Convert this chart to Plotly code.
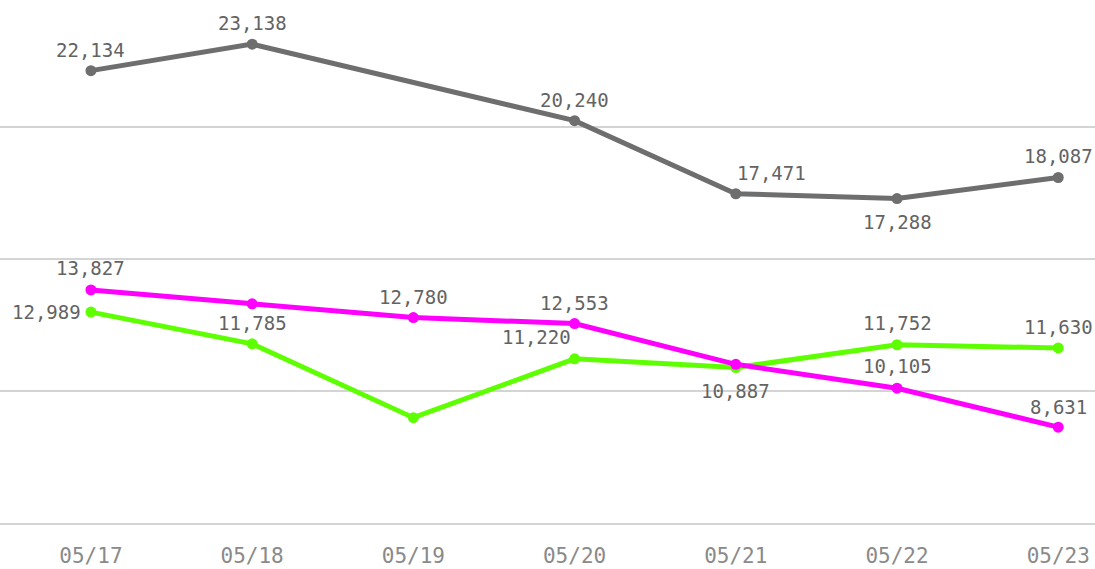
import plotly.graph_objects as go

# Daily values
dates = ["05/17", "05/18", "05/19", "05/20", "05/21", "05/22", "05/23"]
gray_vals = [22134, 23138, None, 20240, 17471, 17288, 18087]
magenta_vals = [13827, 13300, 12780, 12553, 11010, 10105, 8631]
green_vals = [12989, 11785, 8990, 11220, 10887, 11752, 11630]

# Which points carry a value label
gray_labeled = [True, True, False, True, True, True, True]
magenta_labeled = [True, False, True, True, False, True, True]
green_labeled = [True, True, False, True, True, True, True]

# Label placement (pixel offsets from the marker)
gray_offsets = [(0, 21), (0, 21), (0, 0), (0, 21), (36, 21), (0, -23), (0, 21)]
magenta_offsets = [(0, 22), (0, 0), (0, 21), (0, 21), (0, 0), (0, 22), (0, 20)]
green_offsets = [(-44, 0), (0, 21), (0, 0), (-38, 22), (0, -23), (0, 22), (0, 21)]

GRAY = "#6e6e6e"
MAGENTA = "#ff00ff"
GREEN = "#5eff00"
LABEL_FONT = dict(family="DejaVu Sans Mono", size=19, color="#636363")

x_idx = list(range(len(dates)))

fig = go.Figure()
for vals, color in [(gray_vals, GRAY), (green_vals, GREEN), (magenta_vals, MAGENTA)]:
    fig.add_trace(go.Scatter(
        x=x_idx, y=vals, mode="lines+markers",
        line=dict(color=color, width=5),
        marker=dict(color=color, size=11),
        connectgaps=True, hoverinfo="skip", showlegend=False,
    ))

annotations = []
for vals, labeled, offsets in [
    (gray_vals, gray_labeled, gray_offsets),
    (magenta_vals, magenta_labeled, magenta_offsets),
    (green_vals, green_labeled, green_offsets),
]:
    for i, (v, show, (dx, dy)) in enumerate(zip(vals, labeled, offsets)):
        if v is None or not show:
            continue
        annotations.append(dict(
            x=i, y=v, xref="x", yref="y", text=f"{v:,}",
            showarrow=False, xshift=dx, yshift=dy,
            font=LABEL_FONT, xanchor="center", yanchor="middle",
        ))

fig.update_layout(
    width=1095, height=569,
    margin=dict(l=0, r=0, t=0, b=46),
    paper_bgcolor="white", plot_bgcolor="white",
    annotations=annotations,
    xaxis=dict(
        range=[-0.564, 6.228], tickmode="array", tickvals=x_idx, ticktext=dates,
        showgrid=False, zeroline=False, ticks="",
        tickfont=dict(family="DejaVu Sans Mono", size=21, color="#8a8a8a"),
        ticklabelstandoff=13,
        showline=True, linecolor="#d4d4d4", linewidth=2,
    ),
    yaxis=dict(
        range=[5000, 24810], dtick=5000, tick0=5000,
        showgrid=True, gridcolor="#d4d4d4", gridwidth=2,
        showticklabels=False, zeroline=False, showline=False,
    ),
)

fig.write_html("out.html")
